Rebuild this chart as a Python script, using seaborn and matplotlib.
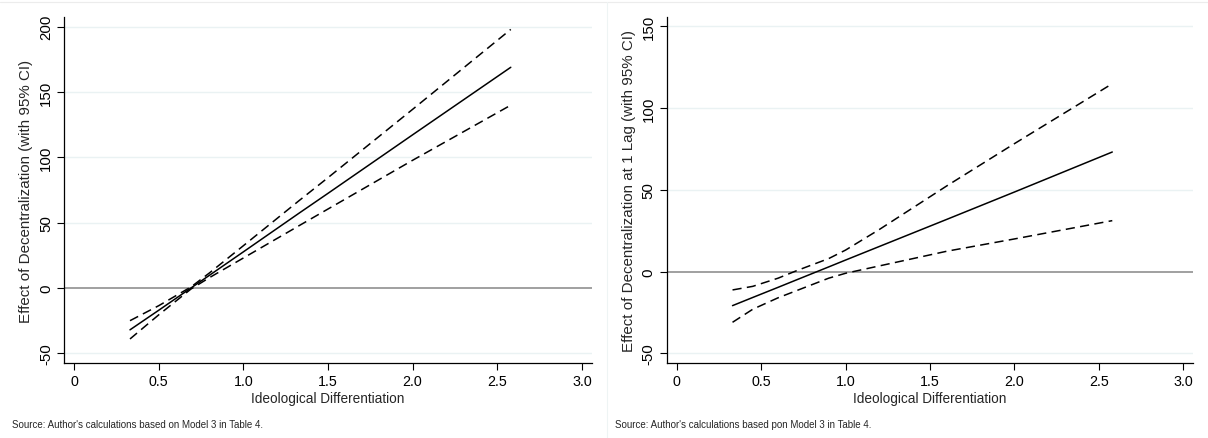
import numpy as np
import pandas as pd
import matplotlib
matplotlib.use("Agg")
import matplotlib.pyplot as plt
import seaborn as sns
from matplotlib.lines import Line2D

# valeurs (panneau gauche : effet contemporain)
x_left = [0.33, 0.5, 0.69, 0.8, 1.0, 1.33, 1.5, 2.0, 2.58]
effet_left = [-32, -17, 0, 9.8, 27.7, 57.4, 72.5, 117.3, 169]
haut_left = [-25, -13.5, 0.8, 11.6, 32.4, 67.0, 84.5, 136.8, 198]
bas_left = [-39, -20.5, -0.8, 8.0, 23.0, 47.8, 60.5, 97.8, 140]

# panneau droit : effet avec un retard
x_right = [0.33, 0.45, 0.6, 0.71, 0.9, 1.0, 1.2, 1.6, 2.0, 2.58]
effet_right = [-20.8, -15.8, -9.6, -5.0, 2.9, 7.1, 15.4, 32.0, 48.7, 73.2]
haut_right = [-11.2, -9.0, -4.0, 0.6, 8.0, 13.2, 25.8, 52.5, 78.3, 115]
bas_right = [-31, -23, -16, -11.6, -4.0, -1.0, 3.5, 12.5, 20.0, 31.2]

xticks = [0, 0.5, 1.0, 1.5, 2.0, 2.5, 3.0]
xticklabels = ["0", "0.5", "1.0", "1.5", "2.0", "2.5", "3.0"]

sns.set_style("white")
plt.rcParams['font.family'] = ['Liberation Sans', 'DejaVu Sans']

fig = plt.figure(figsize=(12.08, 4.39), dpi=100)
W, H = 1208, 439

panneaux = [
    dict(x=x_left, m=effet_left, hi=haut_left, lo=bas_left,
         pos=[64 / W, 75 / H, 528 / W, 346 / H], ylim=(-57.4, 207.5),
         yticks=[-50, 0, 50, 100, 150, 200],
         ylabel="Effect of Decentralization (with 95% CI)",
         source="Source: Author's calculations based on Model 3 in Table 4.",
         sx=12 / W),
    dict(x=x_right, m=effet_right, hi=haut_right, lo=bas_right,
         pos=[666.7 / W, 75 / H, 526.6 / W, 346 / H], ylim=(-55.9, 155.8),
         yticks=[-50, 0, 50, 100, 150],
         ylabel="Effect of Decentralization at 1 Lag (with 95% CI)",
         source="Source: Author's calculations based pon Model 3 in Table 4.",
         sx=615 / W),
]

for p in panneaux:
    ax = fig.add_axes(p["pos"])
    df = pd.DataFrame({"x": p["x"], "m": p["m"], "hi": p["hi"], "lo": p["lo"]})
    for t in p["yticks"]:
        if t != 0:
            ax.axhline(t, color="#eaf2f3", lw=1.0, zorder=0)
    ax.axhline(0, color="#a0a0a0", lw=1.4, zorder=1)
    sns.lineplot(data=df, x="x", y="m", ax=ax, color="black", lw=1.1)
    sns.lineplot(data=df, x="x", y="hi", ax=ax, color="black", lw=1.1,
                 linestyle=(0, (6, 3.5)))
    sns.lineplot(data=df, x="x", y="lo", ax=ax, color="black", lw=1.1,
                 linestyle=(0, (6, 3.5)))
    ax.set_xlim(-0.06, 3.06)
    ax.set_ylim(*p["ylim"])
    ax.set_xticks(xticks)
    ax.set_xticklabels(xticklabels, fontsize=10.3)
    ax.set_yticks(p["yticks"])
    ax.set_yticklabels([str(t) for t in p["yticks"]], rotation=90, va="center",
                       fontsize=10.8)
    ax.tick_params(axis="both", direction="out", length=5, width=0.8,
                   color="black", labelcolor="black", pad=3,
                   bottom=True, left=True)
    for s in ["top", "right"]:
        ax.spines[s].set_visible(False)
    for s in ["left", "bottom"]:
        ax.spines[s].set_color("black")
        ax.spines[s].set_linewidth(0.9)
    ax.set_xlabel("Ideological Differentiation", fontsize=9.8, labelpad=2)
    ax.set_ylabel(p["ylabel"], fontsize=10.9, labelpad=4)
    fig.text(p["sx"], 1 - 425 / H, p["source"], fontsize=7.0, va="center")

# bords très pâles des deux graphiques
fig.add_artist(Line2D([0, 1], [1 - 3 / H, 1 - 3 / H], color="#ececec", lw=0.8))
fig.add_artist(Line2D([607 / W, 607 / W], [0, 1 - 3 / H], color="#eef4f4", lw=0.8))

fig.savefig("out.png", dpi=100)
